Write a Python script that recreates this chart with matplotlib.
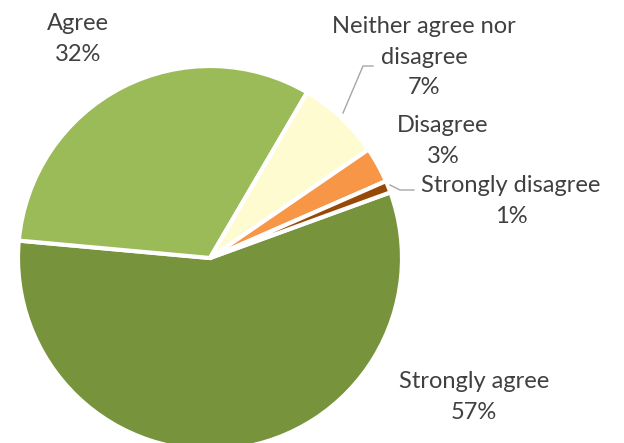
import matplotlib.pyplot as plt

labels = ["Strongly agree", "Agree", "Neither agree nor\ndisagree", "Disagree", "Strongly disagree"]
values = [57, 32, 7, 3, 1]
colors = ["#77933C", "#9BBB59", "#FFFBD0", "#F79646", "#984807"]

W, H = 624, 443
fig = plt.figure(figsize=(W / 100, H / 100), dpi=100)
ax = fig.add_axes([0, 0, 1, 1])

center = (210, H - 258)
ax.pie(values, colors=colors, startangle=20, counterclock=False,
       center=center, radius=192, frame=True,
       wedgeprops=dict(edgecolor="white", linewidth=3))
ax.set_xlim(0, W)
ax.set_ylim(0, H)
ax.set_aspect("equal")
ax.axis("off")

# label positions in pixel coords (x, y from top)
label_pos = [(474, 397), (78, 39), (424, 57), (443, 141), (511, 201)]
txt_color = "#404040"
for lab, v, (x, y) in zip(labels, values, label_pos):
    ax.text(x, H - y, f"{lab}\n{v}%", ha="center", va="center",
            fontsize=17, color=txt_color, family="Lato", linespacing=1.55)

# leader lines
ax.plot([343, 363, 373], [H - 113, H - 66, H - 66], color="#A6A6A6", lw=1)
ax.plot([390, 400, 414], [H - 185, H - 190, H - 190], color="#A6A6A6", lw=1)

fig.savefig("out.png", dpi=100)
